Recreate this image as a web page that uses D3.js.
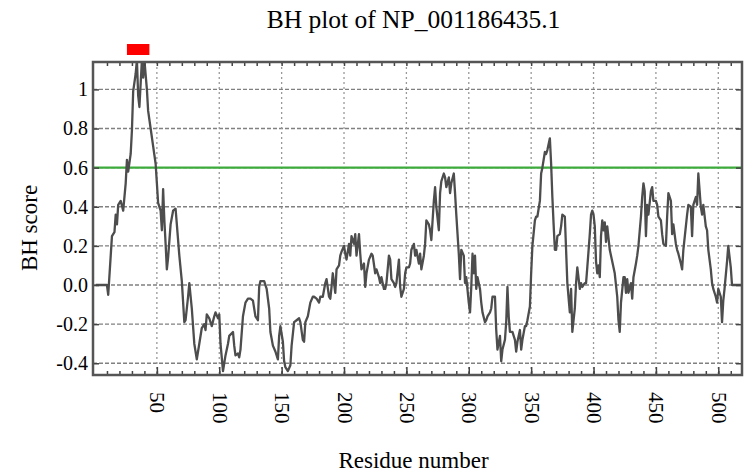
<!DOCTYPE html>
<html>
<head>
<meta charset="utf-8">
<script src="https://cdn.jsdelivr.net/npm/d3@7"></script>
<style>
  html, body { margin: 0; padding: 0; background: #fff; }
  svg { display: block; }
  text { font-family: "Liberation Serif", "Times New Roman", serif; fill: #000; }
</style>
</head>
<body>
<svg id="chart" width="745" height="475"></svg>
<script>
// Bepipred-style BH score profile along the sequence
const residues = [
  1, 10, 11, 13, 14, 16, 17, 18, 19, 21, 23, 25, 26, 27, 29, 30, 31, 33, 34, 35, 36, 38, 39, 40, 42, 43, 45, 47, 49,
  50, 51, 53, 54, 55, 56, 57, 58, 59, 61, 63, 65, 66, 68, 70, 72, 73, 75, 76, 78, 80, 82, 84, 86, 88, 89, 90, 92, 94, 96, 97, 99,
  100, 101, 103, 105, 107, 108, 111, 112, 113, 115, 116, 117, 119, 121, 123, 125, 127, 129, 131, 132, 133, 136, 138, 140, 141, 143, 145, 147, 148, 149,
  151, 152, 153, 155, 157, 158, 160, 162, 164, 165, 167, 168, 169, 171, 173, 175, 176, 178, 180, 181, 183, 185, 186, 188, 189, 190, 191, 193, 194, 196, 197, 198,
  200, 201, 202, 204, 205, 206, 208, 209, 210, 212, 213, 214, 216, 217, 218, 220, 222, 223, 225, 226, 228, 229, 230, 232, 233, 234, 236, 237, 238, 240, 241, 242, 244, 245, 246, 248, 249,
  250, 252, 253, 254, 256, 257, 258, 260, 261, 262, 264, 265, 266, 268, 269, 270, 272, 273, 274, 276, 277, 278, 280, 281, 282, 284, 285, 286, 288, 289, 290, 292, 293, 294, 296, 297, 298,
  300, 301, 302, 303, 304, 305, 306, 307, 309, 310, 311, 313, 314, 315, 317, 318, 319, 321, 322, 323, 325, 326, 327, 329, 330, 331, 332, 333, 335, 337, 338, 339, 341, 342, 343, 345, 346, 347, 349,
  350, 351, 353, 354, 355, 357, 358, 359, 361, 362, 363, 365, 366, 367, 368, 369, 370, 371, 373, 374, 375, 377, 378, 379, 381, 382, 383, 385, 386, 387, 389, 390, 391, 393, 394, 395, 397, 398, 399,
  400, 401, 402, 403, 404, 405, 406, 407, 408, 409, 410, 411, 412, 413, 415, 417, 419, 420, 421, 422, 424, 425, 426, 427, 428, 430, 431, 432, 434, 435, 436, 438, 439, 440, 441, 442, 443, 444, 446, 447, 448,
  450, 451, 452, 454, 455, 456, 458, 459, 460, 462, 463, 464, 466, 467, 468, 470, 471, 472, 474, 475, 476, 478, 479, 480, 482, 483, 484, 486, 487, 488, 490, 491, 492, 494, 495, 496, 498, 499,
  500, 502, 503, 504, 505, 507, 508, 510, 511, 519
];
const bhScore = [
  0.00, 0.00, -0.05, 0.15, 0.25, 0.27, 0.36, 0.31, 0.41, 0.43, 0.38, 0.52, 0.64, 0.58, 0.67, 0.79, 0.99, 1.08, 1.15, 0.97, 0.91, 1.15, 1.06, 1.15, 1.00, 0.89, 0.80, 0.71, 0.62,
  0.52, 0.42, 0.38, 0.28, 0.49, 0.33, 0.21, 0.08, 0.14, 0.31, 0.38, 0.39, 0.31, 0.15, 0.02, -0.19, -0.18, -0.06, 0.01, -0.12, -0.30, -0.38, -0.30, -0.22, -0.20, -0.23, -0.15, -0.17, -0.21, -0.16, -0.14, -0.17,
  -0.15, -0.30, -0.44, -0.36, -0.30, -0.26, -0.24, -0.31, -0.36, -0.35, -0.37, -0.33, -0.16, -0.09, -0.07, -0.07, -0.08, -0.16, -0.18, -0.01, 0.02, 0.02, -0.02, -0.12, -0.24, -0.31, -0.34, -0.38, -0.26, -0.21,
  -0.29, -0.39, -0.42, -0.44, -0.41, -0.31, -0.19, -0.18, -0.17, -0.19, -0.28, -0.29, -0.19, -0.16, -0.09, -0.06, -0.06, -0.07, -0.09, -0.06, -0.06, 0.01, 0.03, -0.06, -0.07, -0.01, 0.06, -0.04, 0.08, 0.10, 0.15, 0.17,
  0.20, 0.16, 0.13, 0.21, 0.15, 0.25, 0.21, 0.26, 0.15, 0.26, 0.16, 0.08, 0.11, -0.01, 0.06, 0.13, 0.16, 0.15, 0.06, 0.08, 0.04, 0.01, 0.04, -0.02, -0.02, 0.01, 0.15, 0.13, 0.03, 0.01, -0.01, 0.01, 0.13, -0.01, -0.06, -0.02, 0.06,
  0.09, 0.09, 0.11, 0.18, 0.21, 0.15, 0.18, 0.11, 0.16, 0.08, 0.15, 0.21, 0.33, 0.31, 0.28, 0.23, 0.43, 0.50, 0.40, 0.28, 0.47, 0.53, 0.57, 0.55, 0.50, 0.55, 0.47, 0.52, 0.57, 0.47, 0.36, 0.16, 0.03, 0.18, 0.15, 0.01, 0.04,
  -0.09, -0.14, -0.01, 0.16, 0.06, 0.15, -0.02, 0.04, -0.02, -0.09, -0.14, -0.19, -0.18, -0.16, -0.14, -0.12, -0.06, -0.06, -0.23, -0.33, -0.26, -0.39, -0.33, -0.28, -0.19, -0.01, -0.16, -0.24, -0.24, -0.28, -0.34, -0.29, -0.23, -0.33, -0.28, -0.21, -0.21, -0.18, -0.11,
  0.06, 0.20, 0.33, 0.35, 0.35, 0.43, 0.57, 0.60, 0.68, 0.67, 0.69, 0.75, 0.62, 0.45, 0.31, 0.18, 0.18, 0.25, 0.26, 0.30, 0.36, 0.35, 0.18, 0.01, -0.14, -0.02, -0.24, -0.12, 0.01, 0.09, -0.02, 0.01, -0.01, 0.01, 0.01, 0.09, 0.26, 0.36, 0.38,
  0.36, 0.30, 0.12, 0.06, 0.10, 0.04, 0.25, 0.33, 0.28, 0.32, 0.22, 0.30, 0.24, 0.18, 0.12, 0.06, -0.06, -0.18, -0.24, -0.09, 0.04, 0.04, -0.04, 0.03, -0.04, 0.01, -0.07, 0.04, 0.11, 0.15, 0.20, 0.35, 0.45, 0.52, 0.48, 0.25, 0.41, 0.36, 0.48, 0.50, 0.43,
  0.43, 0.41, 0.35, 0.33, 0.26, 0.21, 0.20, 0.35, 0.47, 0.43, 0.26, 0.31, 0.21, 0.18, 0.16, 0.11, 0.08, 0.18, 0.30, 0.36, 0.41, 0.40, 0.25, 0.41, 0.45, 0.41, 0.57, 0.40, 0.36, 0.41, 0.30, 0.28, 0.18, 0.08, 0.01, -0.02, -0.06, -0.09,
  -0.02, -0.06, -0.19, -0.08, -0.02, 0.12, 0.20, 0.09, 0.00, 0.00
];

const threshold = 0.6;
const epitope = [26, 44];               // residues flagged above the threshold
const xTickValues = [50, 100, 150, 200, 250, 300, 350, 400, 450, 500];
const xTickLabels = ["50", "100", "150", "200", "250", "300", "350", "400", "450", "500"];
const yTickValues = [1, 0.8, 0.6, 0.4, 0.2, 0, -0.2, -0.4];
const yTickLabels = ["1", "0.8", "0.6", "0.4", "0.2", "0.0", "-0.2", "-0.4"];
const titleText = "BH plot of NP_001186435.1";
const xTitle = "Residue number";
const yTitle = "BH score";

const svg = d3.select("#chart");
const plot = { left: 93, right: 742, top: 62, bottom: 375 };

const x = d3.scaleLinear().domain([-1.2, 519]).range([plot.left, plot.right]);
const y = d3.scaleLinear().domain([-0.46, 1.14]).range([plot.bottom, plot.top]);

svg.append("defs").append("clipPath").attr("id", "plotClip")
  .append("rect")
  .attr("x", plot.left).attr("y", plot.top)
  .attr("width", plot.right - plot.left).attr("height", plot.bottom - plot.top);

const soft = svg.select("defs").append("filter").attr("id", "soft")
  .attr("x", "-5%").attr("y", "-5%").attr("width", "110%").attr("height", "110%");
soft.append("feGaussianBlur").attr("stdDeviation", 0.45);

// grid
const grid = svg.append("g");
grid.selectAll("line.h").data(yTickValues).join("line")
  .attr("x1", plot.left).attr("x2", plot.right)
  .attr("y1", d => y(d)).attr("y2", d => y(d))
  .attr("stroke", "#808080").attr("stroke-width", 1.4)
  .attr("stroke-dasharray", "4,2");
grid.selectAll("line.v").data(xTickValues).join("line")
  .attr("y1", plot.top).attr("y2", plot.bottom)
  .attr("x1", d => x(d)).attr("x2", d => x(d))
  .attr("stroke", "#999").attr("stroke-width", 1.3)
  .attr("stroke-dasharray", "2,3");

// threshold
svg.append("line")
  .attr("x1", plot.left).attr("x2", plot.right)
  .attr("y1", y(threshold)).attr("y2", y(threshold))
  .attr("stroke", "#3cab3c").attr("stroke-width", 2.2);

// score trace
const line = d3.line().x((d, i) => x(residues[i])).y(d => y(d));
svg.append("g").attr("clip-path", "url(#plotClip)")
  .append("path")
  .datum(bhScore)
  .attr("d", line)
  .attr("fill", "none")
  .attr("stroke", "#4d4d4d")
  .attr("stroke-width", 2.3)
  .attr("stroke-linejoin", "round")
  .attr("filter", "url(#soft)");

// epitope marker
svg.append("rect")
  .attr("x", x(epitope[0])).attr("width", x(epitope[1]) - x(epitope[0]))
  .attr("y", 44).attr("height", 11)
  .attr("fill", "#ff0000");

// minor ticks top and bottom
const minor = d3.range(10, 519, 10);
svg.append("g").attr("transform", `translate(0,${plot.bottom})`)
  .call(d3.axisBottom(x).tickValues(minor).tickSize(-4).tickFormat(""))
  .call(g => g.select(".domain").remove())
  .call(g => g.selectAll("line").attr("stroke", "#444").attr("stroke-width", 1.5));
svg.append("g").attr("transform", `translate(0,${plot.top})`)
  .call(d3.axisTop(x).tickValues(minor).tickSize(-4).tickFormat(""))
  .call(g => g.select(".domain").remove())
  .call(g => g.selectAll("line").attr("stroke", "#444").attr("stroke-width", 1.5));

// x axis
svg.append("g").attr("transform", `translate(0,${plot.bottom})`)
  .call(d3.axisBottom(x).tickValues(xTickValues).tickSize(-8).tickFormat((d, i) => xTickLabels[i]))
  .call(g => g.select(".domain").remove())
  .call(g => g.selectAll("line").attr("stroke", "#444").attr("stroke-width", 1.5))
  .call(g => g.selectAll("text")
    .attr("transform", "rotate(90)")
    .attr("x", 17).attr("y", 0).attr("dy", "0.33em")
    .attr("text-anchor", "start")
    .style("font-size", "21px")
    .style("font-family", "'Liberation Serif', 'Times New Roman', serif")
    .attr("fill", "#000"));

// y axis
svg.append("g").attr("transform", `translate(${plot.left},0)`)
  .call(d3.axisLeft(y).tickValues(yTickValues).tickSize(-6).tickPadding(5).tickFormat((d, i) => yTickLabels[i]))
  .call(g => g.select(".domain").remove())
  .call(g => g.selectAll("line").attr("stroke", "#444").attr("stroke-width", 1.5))
  .call(g => g.selectAll("text")
    .style("font-size", "20px")
    .style("font-family", "'Liberation Serif', 'Times New Roman', serif")
    .attr("fill", "#000"));
svg.append("g").attr("transform", `translate(${plot.right},0)`)
  .call(d3.axisRight(y).tickValues(yTickValues).tickSize(-6).tickFormat(""))
  .call(g => g.select(".domain").remove())
  .call(g => g.selectAll("line").attr("stroke", "#444").attr("stroke-width", 1.5));

// frame
svg.append("rect")
  .attr("x", plot.left).attr("y", plot.top)
  .attr("width", plot.right - plot.left).attr("height", plot.bottom - plot.top)
  .attr("fill", "none").attr("stroke", "#555").attr("stroke-width", 2.5);

// titles
svg.append("text")
  .attr("x", (plot.left + plot.right) / 2 - 4).attr("y", 28)
  .attr("text-anchor", "middle")
  .style("font-size", "25.5px")
  .text(titleText);
svg.append("text")
  .attr("x", (plot.left + plot.right) / 2 - 4).attr("y", 468)
  .attr("text-anchor", "middle")
  .style("font-size", "23px")
  .text(xTitle);
svg.append("text")
  .attr("transform", "translate(37,228) rotate(-90)")
  .attr("text-anchor", "middle")
  .style("font-size", "23px")
  .text(yTitle);
</script>
</body>
</html>
